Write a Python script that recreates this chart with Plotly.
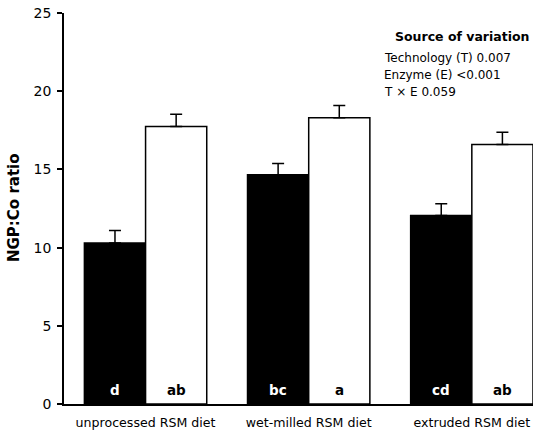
import plotly.graph_objects as go

# Diet groups and NGP:Co ratio (mean + SE) without / with enzyme
diets = ["unprocessed RSM diet", "wet-milled RSM diet", "extruded RSM diet"]
no_enzyme = [10.3, 14.65, 12.05]
no_enzyme_se = [0.8, 0.73, 0.75]
with_enzyme = [17.75, 18.3, 16.6]
with_enzyme_se = [0.78, 0.78, 0.77]
letters_no_enzyme = ["d", "bc", "cd"]
letters_with_enzyme = ["ab", "a", "ab"]
y_ticks = [0, 5, 10, 15, 20, 25]
variation_lines = ["Technology (T) 0.007", "Enzyme (E) &lt;0.001", "T × E 0.059"]

FONT = "DejaVu Sans"
BARGAP = 0.25
half = (1 - BARGAP) / 4  # centre offset of each bar within a group

# plot-area geometry in pixels
W, H = 546, 435
L, R, T, B = 64, 13, 13, 31
PW, PH = W - L - R, H - T - B


def px_x(px):
    return (px - L) / PW


def px_y(py):
    return 1 - (py - T) / PH


fig = go.Figure()
fig.add_bar(
    x=diets, y=no_enzyme, name="no enzyme",
    marker=dict(color="black", line=dict(color="black", width=1.5)),
    error_y=dict(type="data", symmetric=False, array=no_enzyme_se,
                 arrayminus=[0] * len(no_enzyme_se),
                 color="black", thickness=1.5, width=6),
)
fig.add_bar(
    x=diets, y=with_enzyme, name="enzyme",
    marker=dict(color="white", line=dict(color="black", width=1.5)),
    error_y=dict(type="data", symmetric=False, array=with_enzyme_se,
                 arrayminus=[0] * len(with_enzyme_se),
                 color="black", thickness=1.5, width=6),
)

annotations = []
for i, (a, b) in enumerate(zip(letters_no_enzyme, letters_with_enzyme)):
    annotations.append(dict(x=i - half, y=0.9, xref="x", yref="y", text=f"<b>{a}</b>",
                            showarrow=False, font=dict(family=FONT, size=13.5, color="white")))
    annotations.append(dict(x=i + half, y=0.9, xref="x", yref="y", text=f"<b>{b}</b>",
                            showarrow=False, font=dict(family=FONT, size=13.5, color="black")))

annotations += [
    dict(x=px_x(14), y=px_y(208), xref="paper", yref="paper", xanchor="center", yanchor="middle",
         text="<b>NGP:Co ratio</b>", textangle=-90, showarrow=False,
         font=dict(family=FONT, size=15, color="black")),
    dict(x=px_x(462), y=px_y(37), xref="paper", yref="paper", xanchor="center", yanchor="middle",
         text="<b>Source of variation</b>", showarrow=False,
         font=dict(family=FONT, size=12.5, color="black")),
]
for k, line in enumerate(variation_lines):
    annotations.append(dict(x=px_x(382), y=px_y(58 + 17 * k), xref="paper", yref="paper",
                            xanchor="left", yanchor="middle", showarrow=False, text=line,
                            font=dict(family=FONT, size=12, color="black")))

fig.update_layout(
    width=W, height=H,
    margin=dict(l=L, r=R, t=T, b=B, autoexpand=False),
    paper_bgcolor="white", plot_bgcolor="white",
    barmode="group", bargap=BARGAP, bargroupgap=0,
    showlegend=False,
    font=dict(family=FONT, size=12, color="black"),
    xaxis=dict(range=[-0.5, 2.375], showline=True, linecolor="black", linewidth=1.5,
               ticks="", showgrid=False, zeroline=False, ticklabelstandoff=6, automargin=False,
               tickfont=dict(family=FONT, size=12.6)),
    yaxis=dict(range=[0, 25], tickvals=y_ticks, showline=True, linecolor="black", linewidth=1.5,
               ticks="outside", ticklen=5, tickwidth=1.5, tickcolor="black", ticklabelstandoff=3,
               automargin=False, showgrid=False, zeroline=False, tickfont=dict(family=FONT, size=14)),
    annotations=annotations,
)

fig.write_html("out.html")
